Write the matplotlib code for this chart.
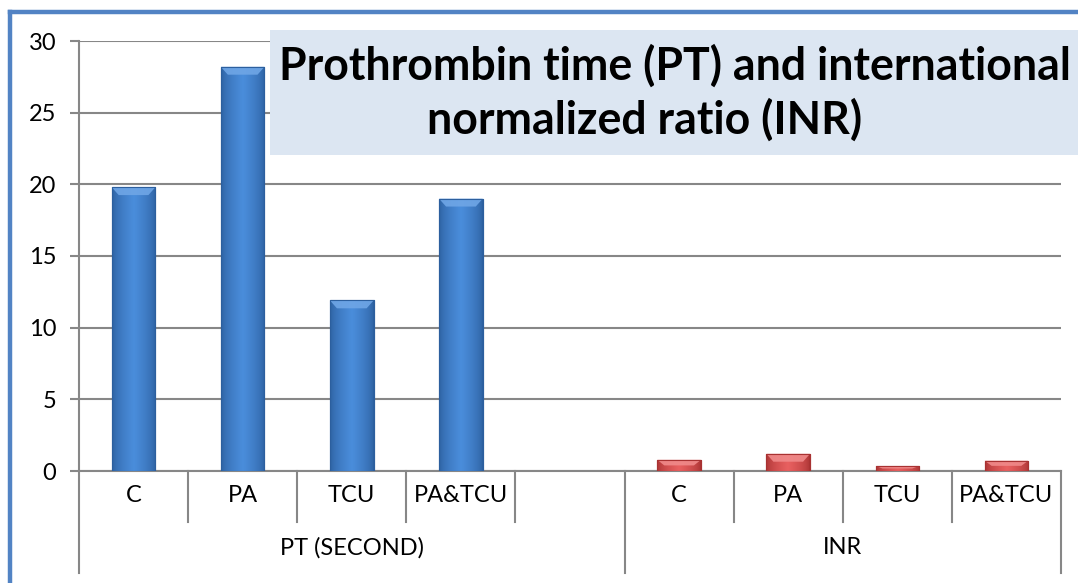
import matplotlib
matplotlib.use("Agg")
import matplotlib.pyplot as plt
import numpy as np
from matplotlib.patches import Rectangle, Polygon
from matplotlib.lines import Line2D

# ---- data ----
categories = ["C", "PA", "TCU", "PA&TCU"]
groups = ["PT (SECOND)", "INR"]
pt_values = [19.8, 28.2, 11.9, 19.0]
inr_values = [0.78, 1.2, 0.35, 0.72]
y_ticks = [0, 5, 10, 15, 20, 25, 30]
title_lines = ["Prothrombin time (PT) and international", "normalized ratio (INR)"]

W, H, DPI = 1078, 583, 100
plt.rcParams['font.family'] = ['Lato', 'DejaVu Sans']
fig = plt.figure(figsize=(W / DPI, H / DPI), dpi=DPI)

# axes placement in pixels
ax_l, ax_r, ax_t, ax_b = 79, 1061, 41, 471
ax = fig.add_axes([ax_l / W, 1 - ax_b / H, (ax_r - ax_l) / W, (ax_b - ax_t) / H])

grid_col = "#878787"
lab_fs = 17
n_pt = len(pt_values)
x_pt = np.arange(n_pt)
x_inr = np.arange(n_pt + 1, n_pt + 1 + len(inr_values))
bar_w = 0.40

def fancy_bars(xs, vals, base, dark, light, top):
    bars = ax.bar(xs, vals, width=bar_w, color=base, edgecolor=dark, linewidth=0.8, zorder=3)
    grad = np.concatenate([np.linspace(0, 1, 50), np.linspace(1, 0, 50)])
    cmap = matplotlib.colors.LinearSegmentedColormap.from_list("g", [dark, light])
    for b in bars:
        x0, w, h = b.get_x(), b.get_width(), b.get_height()
        im = ax.imshow(grad[None, :] ** 0.6, cmap=cmap, aspect='auto',
                       extent=[x0, x0 + w, 0, h], zorder=3.1, interpolation='bilinear')
        im.set_clip_path(b)
        bev = min(h * 0.5, 0.55)
        inset = w * 0.16
        poly = Polygon([[x0, h], [x0 + w, h], [x0 + w - inset, h - bev], [x0 + inset, h - bev]],
                       closed=True, facecolor=top, edgecolor='none', zorder=3.2, alpha=0.9)
        ax.add_patch(poly)
        ax.add_patch(Rectangle((x0, 0), w, h, facecolor='none', edgecolor=dark, lw=0.8, zorder=3.3))
    return bars

fancy_bars(x_pt, pt_values, "#3E7CC9", "#2C5F9E", "#4A8DDB", "#6FA6E6")
fancy_bars(x_inr, inr_values, "#D94B4B", "#A83232", "#E86060", "#F08A8A")

ax.set_xlim(-0.5, n_pt + len(inr_values) + 0.5)
ax.set_ylim(0, 30)
ax.set_yticks(y_ticks)
ax.yaxis.grid(True, color=grid_col, linewidth=1.5, zorder=0)
ax.set_axisbelow(True)
ax.set_xticks([])
for s in ["top", "right"]:
    ax.spines[s].set_visible(False)
ax.spines["left"].set_color(grid_col)
ax.spines["left"].set_linewidth(1.5)
ax.spines["bottom"].set_color(grid_col)
ax.spines["bottom"].set_linewidth(1.5)
ax.tick_params(axis='y', direction='out', length=6.5, width=1.5, color=grid_col,
               labelsize=lab_fs, pad=10, labelcolor="black")

# multi-level category axis
ah = ax_b - ax_t
def yfrac(py):
    return (ax_b - py) / ah
trans = ax.get_xaxis_transform()
short_end = yfrac(522)
long_end = yfrac(573)
lab_y = yfrac(496)
grp_y = yfrac(548)

n_total = n_pt + 1 + len(inr_values)
group_bounds = [-0.5, n_pt + 0.5, n_total - 0.5]
for b in np.arange(-0.5, n_total, 1.0):
    is_long = any(abs(b - g) < 1e-6 for g in group_bounds)
    ax.add_line(Line2D([b, b], [0, long_end if is_long else short_end], transform=trans,
                       color=grid_col, lw=1.5, clip_on=False))

for xs in (x_pt, x_inr):
    for x, c in zip(xs, categories):
        ax.text(x, lab_y, c, transform=trans, ha='center', va='center', fontsize=lab_fs)
ax.text((group_bounds[0] + group_bounds[1]) / 2, grp_y, groups[0], transform=trans,
        ha='center', va='center', fontsize=lab_fs)
ax.text((group_bounds[1] + group_bounds[2]) / 2, grp_y, groups[1], transform=trans,
        ha='center', va='center', fontsize=lab_fs)

# title box
fig.patches.append(Rectangle((270 / W, 1 - 155 / H), (W - 270 + 10) / W, 125 / H,
                             transform=fig.transFigure, facecolor="#DCE6F2", edgecolor='none',
                             zorder=5))
t1 = fig.text(279 / W, 1 - 66 / H, title_lines[0], ha='left', va='center',
              fontsize=30, fontweight='bold', zorder=6)
fig.canvas.draw()
r = fig.canvas.get_renderer()
wpx = t1.get_window_extent(r).width
fs = 30 * 792 / wpx
t1.set_fontsize(fs)
fig.text(645 / W, 1 - 120 / H, title_lines[1], ha='center', va='center',
         fontsize=fs, fontweight='bold', zorder=6)

# outer blue border (cropped on right/bottom): left and top edges only visible
bcol = "#5283C4"
fig.add_artist(Line2D([10 / W, 10 / W], [0, 1 - 12 / H], transform=fig.transFigure,
                      color=bcol, lw=3.2, solid_capstyle='projecting', zorder=10))
fig.add_artist(Line2D([10 / W, 1.0], [1 - 12 / H, 1 - 12 / H], transform=fig.transFigure,
                      color=bcol, lw=3.2, solid_capstyle='projecting', zorder=10))

fig.savefig("out.png", dpi=DPI)
